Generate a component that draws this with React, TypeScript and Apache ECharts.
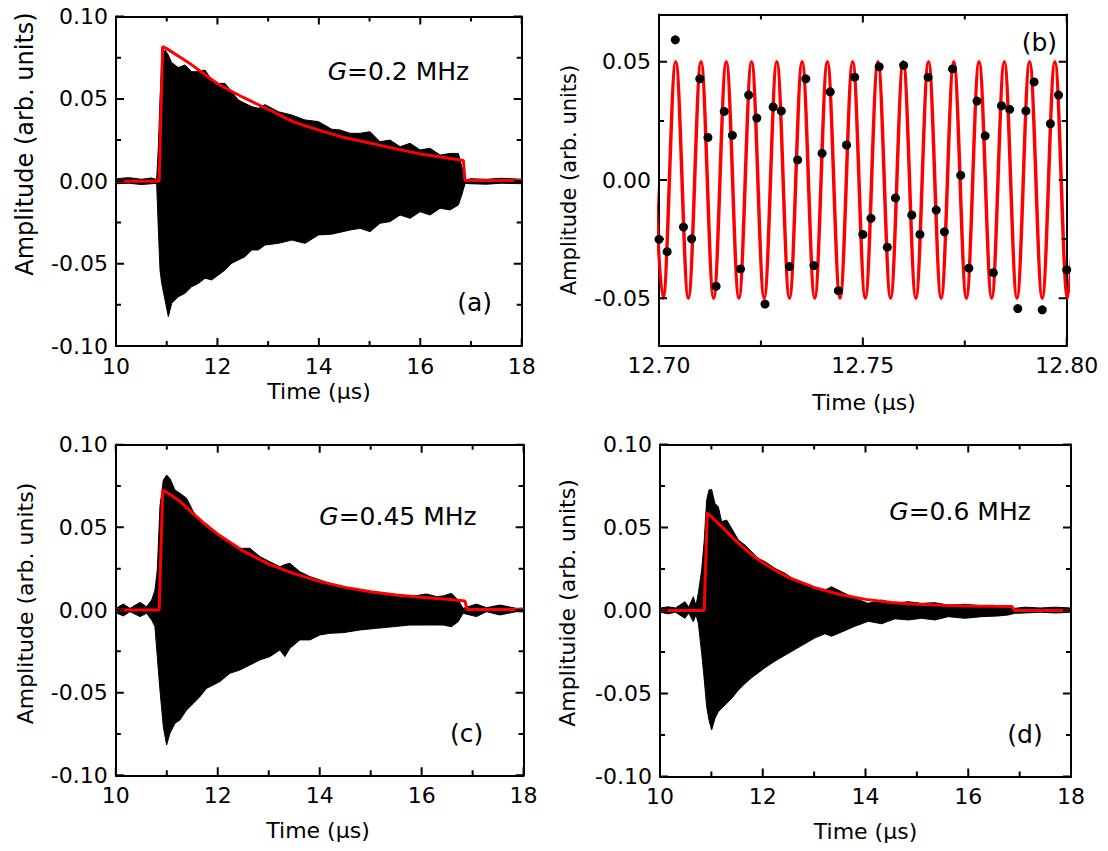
import React, { useEffect, useRef } from 'react';
import * as echarts from 'echarts';

// ---------- panel (a): G = 0.2 MHz ----------
const aTime = [10.0, 10.25, 10.5, 10.7, 10.802, 10.835, 10.868, 10.901, 10.967, 11.032, 11.098, 11.23, 11.361, 11.492, 11.624, 11.755, 11.887, 12.018, 12.15, 12.281, 12.413, 12.544, 12.676, 12.807, 12.939, 13.202, 13.465, 13.728, 13.991, 14.254, 14.418, 14.615, 14.813, 15.01, 15.207, 15.404, 15.602, 15.799, 15.996, 16.193, 16.391, 16.588, 16.752, 16.818, 16.884, 17.0, 17.3, 17.6, 18.0];
const aUpper = [0.0015, 0.0022, 0.0012, 0.0020, 0.0010, 0.021, 0.050, 0.0716, 0.0797, 0.0766, 0.0720, 0.0690, 0.0706, 0.0665, 0.0665, 0.0675, 0.0615, 0.0594, 0.0594, 0.0544, 0.0493, 0.0473, 0.0453, 0.0443, 0.0465, 0.0422, 0.0402, 0.0372, 0.0362, 0.0316, 0.0311, 0.0291, 0.0291, 0.0301, 0.0240, 0.0250, 0.0210, 0.0230, 0.0190, 0.0200, 0.0159, 0.0169, 0.0169, 0.0088, 0.0008, 0.0015, 0.0012, 0.0018, 0.0012];
const aLower = [-0.0015, -0.0012, -0.0020, -0.0015, -0.0013, -0.0296, -0.0539, -0.0620, -0.0721, -0.0822, -0.0741, -0.0701, -0.0680, -0.0640, -0.0620, -0.0589, -0.0599, -0.0569, -0.0539, -0.0498, -0.0478, -0.0458, -0.0417, -0.0417, -0.0387, -0.0377, -0.0357, -0.0377, -0.0326, -0.0321, -0.0310, -0.0296, -0.0286, -0.0306, -0.0255, -0.0245, -0.0205, -0.0225, -0.0185, -0.0205, -0.0164, -0.0174, -0.0144, -0.0083, -0.0013, -0.0015, -0.0018, -0.0012, -0.0015];
const aFitTime = [10.0, 10.85, 10.92, 11.0, 11.25, 11.5, 12.0, 12.5, 13.0, 13.5, 14.0, 14.5, 15.0, 15.5, 16.0, 16.5, 16.85, 16.88, 18.0];
const aFit = [0, 0, 0.0818, 0.0805, 0.0755, 0.0705, 0.0592, 0.0510, 0.0437, 0.0360, 0.0310, 0.0265, 0.0232, 0.0198, 0.0166, 0.0143, 0.0126, 0.0005, 0.0005];

// ---------- panel (b): zoom 12.70-12.80 us ----------
const bDotTime = [12.700, 12.702, 12.704, 12.706, 12.708, 12.710, 12.712, 12.714, 12.716, 12.718, 12.720, 12.722, 12.724, 12.726, 12.728, 12.730, 12.732, 12.734, 12.736, 12.738, 12.740, 12.742, 12.744, 12.746, 12.748, 12.750, 12.752, 12.754, 12.756, 12.758, 12.760, 12.762, 12.764, 12.766, 12.768, 12.770, 12.772, 12.774, 12.776, 12.778, 12.780, 12.782, 12.784, 12.786, 12.788, 12.790, 12.792, 12.794, 12.796, 12.798, 12.800];
const bDotAmp = [-0.0251, -0.0303, 0.0593, -0.0199, -0.0249, 0.0428, 0.0180, -0.0449, 0.0290, 0.0189, -0.0376, 0.0359, 0.0262, -0.0525, 0.0309, 0.0292, -0.0366, 0.0085, 0.0428, -0.0362, 0.0113, 0.0373, -0.0468, 0.0148, 0.0435, -0.0230, -0.0162, 0.0479, -0.0284, -0.0076, 0.0485, -0.0148, -0.0230, 0.0435, -0.0127, -0.0219, 0.0470, 0.0020, -0.0373, 0.0334, 0.0187, -0.0392, 0.0314, 0.0299, -0.0544, 0.0292, 0.0415, -0.0549, 0.0238, 0.0359, -0.0380];
// extrema (peaks / troughs) of the red fitted sinusoid
const bFitTime = [12.6979, 12.7010, 12.7041, 12.7072, 12.7103, 12.7134, 12.7165, 12.7196, 12.7227, 12.7258, 12.7289, 12.7320, 12.7351, 12.7382, 12.7413, 12.7444, 12.7475, 12.7506, 12.7537, 12.7568, 12.7599, 12.7630, 12.7661, 12.7692, 12.7723, 12.7754, 12.7785, 12.7816, 12.7847, 12.7878, 12.7909, 12.7940, 12.7971, 12.8002, 12.8033];
const bFitAmp = [0.05, -0.05, 0.05, -0.05, 0.05, -0.05, 0.05, -0.05, 0.05, -0.05, 0.05, -0.05, 0.05, -0.05, 0.05, -0.05, 0.05, -0.05, 0.05, -0.05, 0.05, -0.05, 0.05, -0.05, 0.05, -0.05, 0.05, -0.05, 0.05, -0.05, 0.05, -0.05, 0.05, -0.05, 0.05];

// ---------- panel (c): G = 0.45 MHz ----------
const cTime = [10.0, 10.147, 10.278, 10.474, 10.605, 10.703, 10.768, 10.814, 10.866, 10.932, 10.997, 11.062, 11.16, 11.259, 11.389, 11.52, 11.651, 11.781, 11.912, 12.043, 12.239, 12.435, 12.631, 12.827, 13.023, 13.219, 13.317, 13.415, 13.611, 13.808, 14.004, 14.2, 14.461, 14.788, 15.115, 15.442, 15.768, 16.095, 16.291, 16.422, 16.585, 16.716, 16.814, 17.075, 17.272, 17.533, 17.86, 18.0];
const cUpper = [0.0010, 0.0036, 0.0010, 0.0046, 0.0020, 0.0060, 0.0120, 0.0242, 0.0625, 0.0786, 0.0816, 0.0796, 0.0726, 0.0706, 0.0676, 0.0595, 0.0544, 0.0514, 0.0474, 0.0444, 0.0413, 0.0373, 0.0373, 0.0323, 0.0292, 0.0262, 0.0275, 0.0282, 0.0232, 0.0202, 0.0182, 0.0161, 0.0141, 0.0121, 0.0101, 0.0091, 0.0081, 0.0097, 0.0081, 0.0085, 0.0101, 0.0060, 0.0010, 0.0036, 0.0014, 0.0030, 0.0010, 0.0012];
const cLower = [-0.0016, -0.0036, -0.0010, -0.0040, -0.0020, -0.0060, -0.0101, -0.0282, -0.0484, -0.0706, -0.0817, -0.0746, -0.0686, -0.0665, -0.0605, -0.0565, -0.0524, -0.0474, -0.0454, -0.0433, -0.0383, -0.0363, -0.0333, -0.0302, -0.0282, -0.0242, -0.0282, -0.0232, -0.0181, -0.0181, -0.0151, -0.0141, -0.0137, -0.0121, -0.0111, -0.0101, -0.0091, -0.0091, -0.0091, -0.0091, -0.0101, -0.0071, -0.0020, -0.0040, -0.0010, -0.0030, -0.0010, -0.0012];
const cFitTime = [10.0, 10.85, 10.92, 11.0, 11.25, 11.5, 11.75, 12.0, 12.5, 13.0, 13.5, 14.0, 14.5, 15.0, 15.5, 16.0, 16.5, 16.85, 16.89, 18.0];
const cFit = [0, 0, 0.0726, 0.0712, 0.0660, 0.0587, 0.0520, 0.0459, 0.0357, 0.0278, 0.0220, 0.0173, 0.0137, 0.0110, 0.0091, 0.0077, 0.0065, 0.0055, 0.0003, 0.0003];

// ---------- panel (d): G = 0.6 MHz ----------
const dTime = [10.0, 10.162, 10.30, 10.486, 10.56, 10.648, 10.70, 10.746, 10.811, 10.862, 10.908, 10.953, 11.005, 11.07, 11.135, 11.20, 11.297, 11.394, 11.524, 11.654, 11.783, 11.913, 12.043, 12.237, 12.432, 12.626, 12.821, 13.015, 13.21, 13.34, 13.534, 13.794, 14.053, 14.313, 14.572, 14.831, 15.091, 15.35, 15.61, 15.934, 16.258, 16.582, 16.777, 16.906, 17.1, 17.4, 17.7, 18.0];
const dUpper = [0.0015, 0.0022, 0.0015, 0.0053, 0.0020, 0.0083, 0.0030, 0.0103, 0.0244, 0.0425, 0.0665, 0.0726, 0.0729, 0.0645, 0.0625, 0.0535, 0.0545, 0.0495, 0.0425, 0.0394, 0.0354, 0.0314, 0.0294, 0.0254, 0.0224, 0.0184, 0.0163, 0.0133, 0.0123, 0.0143, 0.0113, 0.0073, 0.0043, 0.0063, 0.0043, 0.0053, 0.0043, 0.0047, 0.0033, 0.0037, 0.0029, 0.0029, 0.0023, 0.0013, 0.0020, 0.0015, 0.0020, 0.0015];
const dLower = [-0.0010, -0.0020, -0.0010, -0.0047, -0.0015, -0.0067, -0.0025, -0.0077, -0.0257, -0.0418, -0.0579, -0.0659, -0.0720, -0.0650, -0.0610, -0.0590, -0.0560, -0.0530, -0.0480, -0.0440, -0.0405, -0.0375, -0.0345, -0.0305, -0.0270, -0.0235, -0.0200, -0.0165, -0.0140, -0.0155, -0.0130, -0.0095, -0.0065, -0.0080, -0.0050, -0.0057, -0.0047, -0.0057, -0.0037, -0.0047, -0.0037, -0.0033, -0.0027, -0.0017, -0.0015, -0.0010, -0.0015, -0.0010];
const dFitTime = [10.0, 10.86, 10.92, 11.0, 11.25, 11.5, 11.75, 12.0, 12.25, 12.5, 13.0, 13.5, 14.0, 14.5, 15.0, 15.5, 16.0, 16.5, 16.85, 16.9, 18.0];
const dFit = [0, 0, 0.0589, 0.0565, 0.0490, 0.0412, 0.0345, 0.0288, 0.0241, 0.0200, 0.0139, 0.0096, 0.0067, 0.0048, 0.0037, 0.0031, 0.0027, 0.0025, 0.0024, 0.0, 0.0];

// ---------- tick values ----------
const mainXMajor = [10, 12, 14, 16, 18];
const mainXMinor = [11, 13, 15, 17];
const mainYMajor = [-0.1, -0.05, 0, 0.05, 0.1];
const mainYMinor = [-0.075, -0.025, 0.025, 0.075];
const bXMajor = [12.7, 12.75, 12.8];
const bXMinor = [12.725, 12.775];
const bYMajor = [-0.05, 0, 0.05];
const bYMinor = [-0.025, 0.025];

const FONT = 'DejaVu Sans';
const BLACK = '#000000';
const RED = '#ff0000';
const MAJOR_LEN = 8;
const MINOR_LEN = 5;

const zip = (t: number[], v: number[]) => t.map((x, i) => [x, v[i]]);
const fmt2 = (v: number) => (Math.abs(v) < 1e-9 ? 0 : v).toFixed(2);
const fmt0 = (v: number) => String(Math.round(v));

const GRIDS = [
  { left: 116, top: 16.5, width: 405.7, height: 329.5 },
  { left: 659, top: 14.5, width: 407.7, height: 331 },
  { left: 115.8, top: 444.7, width: 407.8, height: 330.6 },
  { left: 660, top: 444.5, width: 411, height: 332 },
];

function axis(
  gridIndex: number,
  position: string,
  min: number,
  max: number,
  interval: number | undefined,
  showLabel: boolean,
  formatter: any,
  labelExtra: any = {}
) {
  const a: any = {
    type: 'value',
    gridIndex,
    position,
    min,
    max,
    axisLine: { show: true, onZero: false, lineStyle: { color: BLACK, width: 2 } },
    axisTick: { show: false },
    minorTick: { show: false },
    splitLine: { show: false },
    minorSplitLine: { show: false },
    axisLabel: {
      show: showLabel,
      formatter,
      color: BLACK,
      fontSize: 22,
      fontFamily: FONT,
      margin: 9,
      showMinLabel: true,
      showMaxLabel: true,
      ...labelExtra,
    },
  };
  if (interval !== undefined) a.interval = interval;
  return a;
}

// black oscillation band between the lower and upper envelope, drawn as one polygon
function bandSeries(xi: number, yi: number, t: number[], up: number[], lo: number[]) {
  return {
    type: 'custom',
    xAxisIndex: xi,
    yAxisIndex: yi,
    silent: true,
    clip: true,
    z: 2,
    data: t.map((x, i) => [x, up[i], lo[i]]),
    encode: { x: 0, y: [1, 2] },
    renderItem: (params: any, api: any) => {
      if (params.dataIndex !== 0) return null;
      const pts: number[][] = [];
      for (let i = 0; i < t.length; i++) pts.push(api.coord([t[i], up[i]]));
      for (let i = t.length - 1; i >= 0; i--) pts.push(api.coord([t[i], lo[i]]));
      return {
        type: 'polygon',
        shape: { points: pts },
        style: { fill: BLACK, stroke: BLACK, lineWidth: 1 },
      };
    },
  };
}

function fitSeries(xi: number, yi: number, ft: number[], fv: number[], extra: any = {}) {
  return {
    type: 'line',
    xAxisIndex: xi,
    yAxisIndex: yi,
    symbol: 'none',
    showSymbol: false,
    silent: true,
    data: zip(ft, fv),
    lineStyle: { color: RED, width: 3 },
    z: 3,
    ...extra,
  };
}

// inward ticks on all four sides, placed with the axes' own scales, drawn as one path
function tickSeries(
  xi: number,
  yi: number,
  xLo: number,
  yLo: number,
  xMaj: number[],
  xMin2: number[],
  yMaj: number[],
  yMin2: number[]
) {
  return {
    type: 'custom',
    xAxisIndex: xi,
    yAxisIndex: yi,
    silent: true,
    clip: false,
    z: 6,
    data: [[xLo, yLo]],
    encode: { x: 0, y: 1 },
    renderItem: (params: any, api: any) => {
      if (params.dataIndex !== 0) return null;
      const cs = params.coordSys;
      const x0 = cs.x;
      const x1 = cs.x + cs.width;
      const y0 = cs.y;
      const y1 = cs.y + cs.height;
      const f = (n: number) => n.toFixed(2);
      let d = '';
      const xt = (v: number, len: number) => {
        const px = api.coord([v, yLo])[0];
        d += `M${f(px)} ${f(y1)}L${f(px)} ${f(y1 - len)}`;
        d += `M${f(px)} ${f(y0)}L${f(px)} ${f(y0 + len)}`;
      };
      const yt = (v: number, len: number) => {
        const py = api.coord([xLo, v])[1];
        d += `M${f(x0)} ${f(py)}L${f(x0 + len)} ${f(py)}`;
        d += `M${f(x1)} ${f(py)}L${f(x1 - len)} ${f(py)}`;
      };
      xMaj.forEach((v) => xt(v, MAJOR_LEN));
      xMin2.forEach((v) => xt(v, MINOR_LEN));
      yMaj.forEach((v) => yt(v, MAJOR_LEN));
      yMin2.forEach((v) => yt(v, MINOR_LEN));
      return {
        type: 'path',
        shape: { pathData: d },
        style: { stroke: BLACK, lineWidth: 2, fill: 'none' },
      };
    },
  };
}

function txt(text: string, x: number, y: number, size: number, extra: any = {}, rotation = 0) {
  return {
    type: 'text',
    x,
    y,
    rotation,
    silent: true,
    z: 10,
    style: {
      text,
      fontSize: size,
      fontFamily: FONT,
      fill: BLACK,
      align: 'left',
      verticalAlign: 'middle',
      textAlign: 'left',
      textVerticalAlign: 'middle',
      ...extra,
    },
  };
}

const centered = { align: 'center', textAlign: 'center' };
const richG = (size: number) => ({
  rich: { i: { fontStyle: 'italic', fontSize: size, fontFamily: FONT, fill: BLACK } },
});

function buildOption() {
  const xAxis = [
    axis(0, 'bottom', 10, 18, 2, true, fmt0),
    axis(1, 'bottom', 12.7, 12.8, 0.05, true, fmt2),
    axis(2, 'bottom', 10, 18, 2, true, fmt0),
    axis(3, 'bottom', 10, 18, 2, true, fmt0),
    axis(0, 'top', 10, 18, 2, false, undefined),
    axis(1, 'top', 12.7, 12.8, 0.05, false, undefined),
    axis(2, 'top', 10, 18, 2, false, undefined),
    axis(3, 'top', 10, 18, 2, false, undefined),
  ];
  const yAxis = [
    axis(0, 'left', -0.1, 0.1, 0.05, true, fmt2, { margin: 8 }),
    axis(1, 'left', -0.07, 0.07, undefined, true, fmt2, { margin: 8, customValues: bYMajor }),
    axis(2, 'left', -0.1, 0.1, 0.05, true, fmt2, { margin: 8 }),
    axis(3, 'left', -0.1, 0.1, 0.05, true, fmt2, { margin: 8 }),
    axis(0, 'right', -0.1, 0.1, 0.05, false, undefined),
    axis(1, 'right', -0.07, 0.07, undefined, false, undefined),
    axis(2, 'right', -0.1, 0.1, 0.05, false, undefined),
    axis(3, 'right', -0.1, 0.1, 0.05, false, undefined),
  ];

  const series: any[] = [
    bandSeries(0, 0, aTime, aUpper, aLower),
    fitSeries(0, 0, aFitTime, aFit),
    bandSeries(2, 2, cTime, cUpper, cLower),
    fitSeries(2, 2, cFitTime, cFit),
    bandSeries(3, 3, dTime, dUpper, dLower),
    fitSeries(3, 3, dFitTime, dFit),
    fitSeries(1, 1, bFitTime, bFitAmp, { smooth: 0.36, lineStyle: { color: RED, width: 3.5 } }),
    {
      type: 'scatter',
      xAxisIndex: 1,
      yAxisIndex: 1,
      silent: true,
      symbol: 'circle',
      symbolSize: 9,
      data: zip(bDotTime, bDotAmp),
      itemStyle: { color: BLACK, opacity: 1 },
      z: 4,
    },
    tickSeries(0, 0, 10, -0.1, mainXMajor, mainXMinor, mainYMajor, mainYMinor),
    tickSeries(1, 1, 12.7, -0.07, bXMajor, bXMinor, bYMajor, bYMinor),
    tickSeries(2, 2, 10, -0.1, mainXMajor, mainXMinor, mainYMajor, mainYMinor),
    tickSeries(3, 3, 10, -0.1, mainXMajor, mainXMinor, mainYMajor, mainYMinor),
  ];

  const elements = [
    txt('{i|G}=0.2 MHz', 327.7, 71, 25, richG(25)),
    txt('(a)', 457.3, 302, 25),
    txt('(b)', 1021.7, 42.5, 25),
    txt('{i|G}=0.45 MHz', 319.3, 516, 25, richG(25)),
    txt('(c)', 450, 733, 25),
    txt('{i|G}=0.6 MHz', 889.3, 511, 25, richG(25)),
    txt('(d)', 1007.3, 734, 25),
    txt('Time (\u03bcs)', 319, 391, 22, centered),
    txt('Time (\u03bcs)', 864, 402, 22, centered),
    txt('Time (\u03bcs)', 318, 830, 22, centered),
    txt('Time (\u03bcs)', 865.5, 831, 22, centered),
    txt('Amplitude (arb. units)', 25, 144, 24, centered, Math.PI / 2),
    txt('Amplitude (arb. units)', 569, 180, 21, centered, Math.PI / 2),
    txt('Amplitude (arb. units)', 25, 603.5, 22, centered, Math.PI / 2),
    txt('Amplituide (arb. units)', 567, 603, 22, centered, Math.PI / 2),
  ];

  return {
    animation: false,
    backgroundColor: '#ffffff',
    grid: GRIDS.map((g) => ({ ...g, containLabel: false })),
    xAxis,
    yAxis,
    series,
    graphic: { elements },
  };
}

export default function App() {
  const ref = useRef<HTMLDivElement>(null);
  useEffect(() => {
    if (!ref.current) return;
    const chart = echarts.init(ref.current, undefined, { renderer: 'svg' });
    chart.setOption(buildOption() as any);
    return () => {
      chart.dispose();
    };
  }, []);
  return (
    <div
      ref={ref}
      style={{ position: 'absolute', left: 0, top: 0, width: 1108, height: 851, background: '#fff' }}
    />
  );
}
